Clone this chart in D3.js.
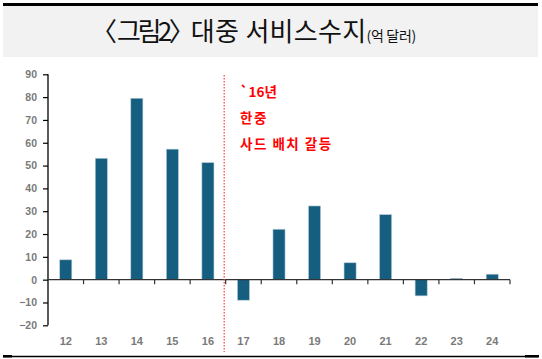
<!DOCTYPE html>
<html><head><meta charset="utf-8">
<script src="https://cdn.jsdelivr.net/npm/d3@7/dist/d3.min.js"></script>
<style>
body{margin:0;background:#fff;}
svg{display:block;}
</style></head>
<body>
<script>
const categories = ["12","13","14","15","16","17","18","19","20","21","22","23","24"];
const values = [8.7, 53.2, 79.5, 57.2, 51.3, -9.0, 22.1, 32.3, 7.4, 28.5, -7.1, 0.6, 2.4];
const yTicks = [90,80,70,60,50,40,30,20,10,0,-10,-20];
const titleParts = ["〈", "그림2", "〉", "대중 서비스수지", "(억 달러)"];
const noteLines = ["`16년", "한중", "사드 배치 갈등"];

const W = 542, H = 359;
const svg = d3.select("body").append("svg").attr("width", W).attr("height", H);

// header
svg.append("rect").attr("x",3).attr("y",6).attr("width",535).attr("height",51).attr("fill","#f2f2f2");
svg.append("line").attr("x1",3).attr("x2",538).attr("y1",4.5).attr("y2",4.5).attr("stroke","#000").attr("stroke-width",3);
const t = svg.append("text").attr("x",91).attr("y",41)
  .attr("font-family","'Noto Sans CJK KR'").attr("fill","#111");
const titleLayout = [
  {dx:0, size:26, ls:0},
  {dx:0, size:26, ls:-3.5},
  {dx:0, size:26, ls:-4},
  {dx:0, size:26, ls:0.3},
  {dx:0, size:14, ls:-0.3}
];
titleParts.forEach((s,i)=>{
  const L = titleLayout[i];
  t.append("tspan").attr("dx",L.dx).attr("font-size",L.size).attr("letter-spacing",L.ls).text(s);
});

// bottom rule
svg.append("line").attr("x1",3).attr("x2",538).attr("y1",356.5).attr("y2",356.5).attr("stroke","#000").attr("stroke-width",1.5);
svg.append("rect").attr("x",3).attr("y",355).attr("width",9).attr("height",2.5).attr("fill","#000");
svg.append("rect").attr("x",525).attr("y",355).attr("width",14).attr("height",2.5).attr("fill","#000");

const x = d3.scaleBand().domain(categories).range([48,510]).paddingInner(0.66).paddingOuter(0.33);
const xb = d3.scaleBand().domain(categories).range([48,510]);
const y = d3.scaleLinear().domain([-20,90]).range([325.3,74.3]);

// y axis
const yAxis = svg.append("g").attr("transform","translate(48,0)")
  .call(d3.axisLeft(y).tickValues(yTicks).tickSize(5).tickPadding(6).tickFormat(d3.format("d")));
yAxis.select(".domain").attr("stroke","#000").attr("stroke-width",1.3).attr("d","M0,"+y(-20)+"V"+y(90));
yAxis.selectAll(".tick line").attr("stroke","#000").attr("stroke-width",1.2);
yAxis.selectAll("text").attr("font-family","Arial, 'Liberation Sans'").attr("font-size",10.5).attr("font-weight","bold").attr("fill","#7a7a7a");

// bars
svg.selectAll(".bar").data(values).enter().append("rect")
  .attr("x",(d,i)=>x(categories[i]))
  .attr("width",x.bandwidth())
  .attr("y",d=>y(Math.max(0,d)))
  .attr("height",d=>Math.abs(y(d)-y(0)))
  .attr("fill","#155e80").attr("stroke","#b8cdd8").attr("stroke-width",0.6);

// x axis line and ticks
const xg = svg.append("g");
xg.append("line").attr("x1",48).attr("x2",510).attr("y1",y(0)).attr("y2",y(0)).attr("stroke","#333").attr("stroke-width",1.2);
xg.selectAll(".xt").data(categories.slice(1).concat(["end"])).enter().append("line")
  .attr("x1",(d,i)=>xb.range()[0]+(i+1)*xb.step()).attr("x2",(d,i)=>xb.range()[0]+(i+1)*xb.step())
  .attr("y1",y(0)).attr("y2",y(0)+4.5).attr("stroke","#333").attr("stroke-width",1.2);
xg.selectAll(".xl").data(categories).enter().append("text")
  .attr("x",d=>xb(d)+xb.bandwidth()/2).attr("y",345).attr("text-anchor","middle")
  .attr("font-family","Arial, 'Liberation Sans'").attr("font-size",11).attr("font-weight","bold").attr("fill","#7a7a7a")
  .text(d=>d);

// red dotted divider
const divX = xb("17") - 1.5;
svg.append("line").attr("x1",divX).attr("x2",divX).attr("y1",75).attr("y2",352)
  .attr("stroke","#ff3b3b").attr("stroke-width",1.2).attr("stroke-dasharray","1.5,1.5");

// annotation
svg.selectAll(".note").data(noteLines).enter().append("text")
  .attr("x",240).attr("y",(d,i)=>97+i*26)
  .attr("font-family","'Noto Sans CJK KR'").attr("font-size",13.5).attr("font-weight","bold")
  .attr("letter-spacing",(d,i)=>i===0?0:1.5).attr("fill","#ff0000").text(d=>d);
</script>
</body></html>
